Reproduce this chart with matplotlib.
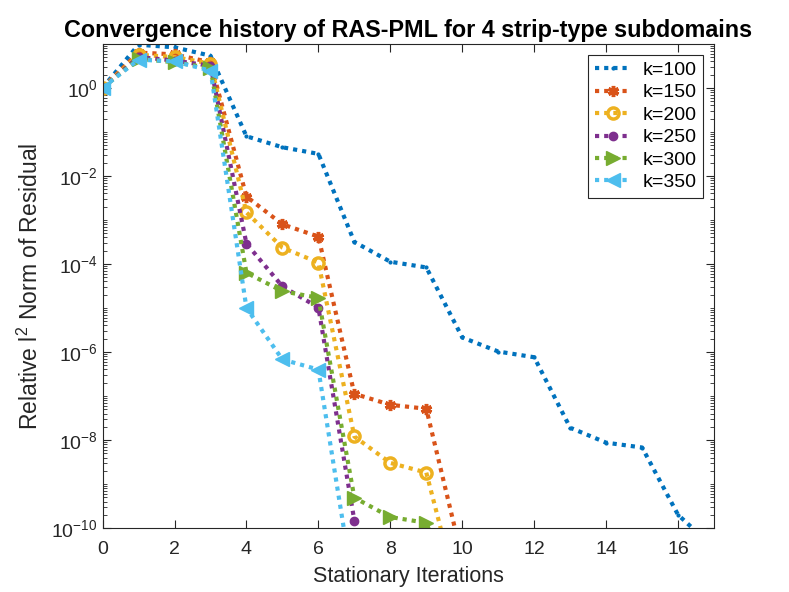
import matplotlib.pyplot as plt
import numpy as np
from matplotlib.ticker import LogLocator, NullFormatter, FixedLocator

plt.rcParams['font.family'] = ['Liberation Sans', 'DejaVu Sans']
plt.rcParams['mathtext.fontset'] = 'custom'
plt.rcParams['mathtext.rm'] = 'Liberation Sans'
plt.rcParams['mathtext.it'] = 'Liberation Sans:italic'
plt.rcParams['mathtext.bf'] = 'Liberation Sans:bold'

# log10 of the relative residual
iters_100 = list(range(18))
res_100 = [0.0, 0.98, 0.92, 0.73, -1.1, -1.35, -1.5, -3.5, -3.95, -4.08,
           -5.67, -5.99, -6.12, -7.72, -8.06, -8.17, -9.7, -10.45]
iters_150 = list(range(11))
res_150 = [0.0, 0.8, 0.76, 0.58, -2.47, -3.1, -3.38, -6.95, -7.2, -7.29, -10.7]
iters_200 = list(range(11))
res_200 = [0.0, 0.75, 0.7, 0.55, -2.83, -3.63, -3.97, -7.92, -8.52, -8.74, -11.9]
iters_250 = list(range(9))
res_250 = [0.0, 0.7, 0.62, 0.5, -3.54, -4.51, -4.99, -9.83, -12.5]
iters_300 = list(range(11))
res_300 = [0.0, 0.66, 0.58, 0.45, -4.2, -4.62, -4.77, -9.31, -9.75, -9.88, -12.0]
iters_350 = list(range(8))
res_350 = [0.0, 0.64, 0.6, 0.39, -5.0, -6.17, -6.4, -11.5]

labels = ['k=100', 'k=150', 'k=200', 'k=250', 'k=300', 'k=350']
colors = ['#0072BD', '#D95319', '#EDB120', '#7E2F8E', '#77AC30', '#4DBEEE']

fig = plt.figure(figsize=(7.89, 5.92), dpi=100)
ax = fig.add_axes([0.13, 0.108, 0.775, 0.818])

dots = (0, (1, 1.2))
series = [
    (iters_100, res_100, dict(marker='.', markersize=4)),
    (iters_150, res_150, dict(marker=(6, 2, 0), markersize=8, markeredgewidth=2.5)),
    (iters_200, res_200, dict(marker='o', markersize=8, markerfacecolor='none', markeredgewidth=2.5)),
    (iters_250, res_250, dict(marker='o', markersize=6)),
    (iters_300, res_300, dict(marker='>', markersize=10)),
    (iters_350, res_350, dict(marker='<', markersize=10)),
]
for (x, y, mk), lab, c in zip(series, labels, colors):
    ax.semilogy(x, 10.0 ** np.array(y), linestyle=dots, linewidth=3, color=c,
                label=lab, **mk)

ax.set_xlim(0, 17)
ax.set_ylim(1e-10, 1e1)
ax.set_xticks(range(0, 17, 2))
ax.yaxis.set_major_locator(FixedLocator([1e-10, 1e-8, 1e-6, 1e-4, 1e-2, 1e0]))
ax.yaxis.set_minor_locator(LogLocator(base=10, subs=np.arange(1, 10), numticks=30))
ax.yaxis.set_minor_formatter(NullFormatter())
ax.tick_params(which='both', direction='in', top=True, right=True, colors='#262626',
               labelsize=14)
ax.tick_params(which='major', length=6)
ax.tick_params(which='minor', length=3)
ax.tick_params(axis='x', which='major', pad=9)
for s in ax.spines.values():
    s.set_color('#262626')
    s.set_linewidth(0.8)

ax.set_xlabel('Stationary Iterations', fontsize=15.5, color='#262626', labelpad=6)
ax.set_ylabel('Relative l$^2$ Norm of Residual', fontsize=16.5, color='#262626',
              labelpad=6)
ax.set_title('Convergence history of RAS-PML for 4 strip-type subdomains',
             fontsize=16.8, fontweight='bold', pad=5)

leg = ax.legend(loc='upper right', fontsize=14, fancybox=False, framealpha=1,
                edgecolor='#262626', borderaxespad=0.55, handlelength=1.85,
                labelspacing=0.25, handletextpad=0.6, borderpad=0.35)
leg.get_frame().set_linewidth(0.8)

fig.savefig('out.png', dpi=100)
